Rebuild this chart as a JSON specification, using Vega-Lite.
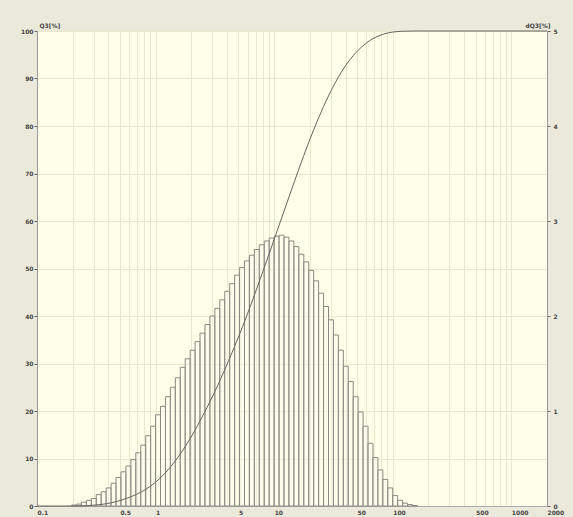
{
  "$schema": "https://vega.github.io/schema/vega-lite/v6.json",
  "width": 510,
  "height": 475,
  "autosize": {"type": "none"},
  "padding": {"left": 37, "top": 31, "right": 26, "bottom": 11},
  "background": "#ebe9da",
  "config": {
    "view": {"fill": "#fefee9", "stroke": "#777777", "strokeWidth": 1},
    "axis": {
      "labelFont": "DejaVu Sans", "labelFontSize": 6, "labelFontWeight": "bold", "labelColor": "#444444",
      "titleFont": "DejaVu Sans", "titleFontSize": 6, "titleFontWeight": "bold", "titleColor": "#444444",
      "domainColor": "#999999", "tickColor": "#666666", "tickSize": 3,
      "gridColor": "#e9e7cd", "gridWidth": 1
    }
  },
  "datasets": {
    "dist": [
      {"lo": 0.19573, "hi": 0.21544, "dq": 0.01},
      {"lo": 0.21544, "hi": 0.23714, "dq": 0.02},
      {"lo": 0.23714, "hi": 0.26102, "dq": 0.04},
      {"lo": 0.26102, "hi": 0.2873, "dq": 0.06},
      {"lo": 0.2873, "hi": 0.31623, "dq": 0.08},
      {"lo": 0.31623, "hi": 0.34807, "dq": 0.12},
      {"lo": 0.34807, "hi": 0.38312, "dq": 0.15},
      {"lo": 0.38312, "hi": 0.4217, "dq": 0.19},
      {"lo": 0.4217, "hi": 0.46416, "dq": 0.24},
      {"lo": 0.46416, "hi": 0.5109, "dq": 0.30},
      {"lo": 0.5109, "hi": 0.56234, "dq": 0.36},
      {"lo": 0.56234, "hi": 0.61897, "dq": 0.42},
      {"lo": 0.61897, "hi": 0.68129, "dq": 0.49},
      {"lo": 0.68129, "hi": 0.74989, "dq": 0.56},
      {"lo": 0.74989, "hi": 0.8254, "dq": 0.64},
      {"lo": 0.8254, "hi": 0.90852, "dq": 0.74},
      {"lo": 0.90852, "hi": 1.0, "dq": 0.84},
      {"lo": 1.0, "hi": 1.1007, "dq": 0.96},
      {"lo": 1.1007, "hi": 1.2115, "dq": 1.05},
      {"lo": 1.2115, "hi": 1.3335, "dq": 1.15},
      {"lo": 1.3335, "hi": 1.4678, "dq": 1.25},
      {"lo": 1.4678, "hi": 1.6156, "dq": 1.35},
      {"lo": 1.6156, "hi": 1.7783, "dq": 1.46},
      {"lo": 1.7783, "hi": 1.9573, "dq": 1.55},
      {"lo": 1.9573, "hi": 2.1544, "dq": 1.64},
      {"lo": 2.1544, "hi": 2.3714, "dq": 1.73},
      {"lo": 2.3714, "hi": 2.6102, "dq": 1.82},
      {"lo": 2.6102, "hi": 2.873, "dq": 1.91},
      {"lo": 2.873, "hi": 3.1623, "dq": 2.00},
      {"lo": 3.1623, "hi": 3.4807, "dq": 2.08},
      {"lo": 3.4807, "hi": 3.8312, "dq": 2.17},
      {"lo": 3.8312, "hi": 4.217, "dq": 2.26},
      {"lo": 4.217, "hi": 4.6416, "dq": 2.34},
      {"lo": 4.6416, "hi": 5.109, "dq": 2.43},
      {"lo": 5.109, "hi": 5.6234, "dq": 2.51},
      {"lo": 5.6234, "hi": 6.1897, "dq": 2.58},
      {"lo": 6.1897, "hi": 6.8129, "dq": 2.64},
      {"lo": 6.8129, "hi": 7.4989, "dq": 2.70},
      {"lo": 7.4989, "hi": 8.254, "dq": 2.75},
      {"lo": 8.254, "hi": 9.0852, "dq": 2.79},
      {"lo": 9.0852, "hi": 10.0, "dq": 2.82},
      {"lo": 10.0, "hi": 11.007, "dq": 2.84},
      {"lo": 11.007, "hi": 12.115, "dq": 2.85},
      {"lo": 12.115, "hi": 13.335, "dq": 2.83},
      {"lo": 13.335, "hi": 14.678, "dq": 2.79},
      {"lo": 14.678, "hi": 16.156, "dq": 2.73},
      {"lo": 16.156, "hi": 17.783, "dq": 2.65},
      {"lo": 17.783, "hi": 19.573, "dq": 2.57},
      {"lo": 19.573, "hi": 21.544, "dq": 2.48},
      {"lo": 21.544, "hi": 23.714, "dq": 2.37},
      {"lo": 23.714, "hi": 26.102, "dq": 2.24},
      {"lo": 26.102, "hi": 28.73, "dq": 2.10},
      {"lo": 28.73, "hi": 31.623, "dq": 1.96},
      {"lo": 31.623, "hi": 34.807, "dq": 1.80},
      {"lo": 34.807, "hi": 38.312, "dq": 1.64},
      {"lo": 38.312, "hi": 42.17, "dq": 1.47},
      {"lo": 42.17, "hi": 46.416, "dq": 1.31},
      {"lo": 46.416, "hi": 51.09, "dq": 1.15},
      {"lo": 51.09, "hi": 56.234, "dq": 0.99},
      {"lo": 56.234, "hi": 61.897, "dq": 0.84},
      {"lo": 61.897, "hi": 68.129, "dq": 0.66},
      {"lo": 68.129, "hi": 74.989, "dq": 0.51},
      {"lo": 74.989, "hi": 82.54, "dq": 0.38},
      {"lo": 82.54, "hi": 90.852, "dq": 0.28},
      {"lo": 90.852, "hi": 100.0, "dq": 0.19},
      {"lo": 100.0, "hi": 110.07, "dq": 0.11},
      {"lo": 110.07, "hi": 121.15, "dq": 0.06},
      {"lo": 121.15, "hi": 133.35, "dq": 0.03},
      {"lo": 133.35, "hi": 146.78, "dq": 0.015},
      {"lo": 146.78, "hi": 161.56, "dq": 0.005}
    ],
    "cum": [
      {"size": 0.1, "q": 0},
      {"size": 0.196, "q": 0},
      {"size": 0.2154, "q": 0.01},
      {"size": 0.261, "q": 0.07},
      {"size": 0.3162, "q": 0.21},
      {"size": 0.3831, "q": 0.48},
      {"size": 0.4642, "q": 0.92},
      {"size": 0.5623, "q": 1.55},
      {"size": 0.6813, "q": 2.4},
      {"size": 0.8254, "q": 3.5},
      {"size": 1.0, "q": 5.0},
      {"size": 1.2115, "q": 7.0},
      {"size": 1.4678, "q": 9.5},
      {"size": 1.7783, "q": 12.5},
      {"size": 2.1544, "q": 16.0},
      {"size": 2.6102, "q": 19.9},
      {"size": 3.1623, "q": 24.1},
      {"size": 3.8312, "q": 28.7},
      {"size": 4.6416, "q": 33.6},
      {"size": 5.6234, "q": 38.8},
      {"size": 6.8129, "q": 44.4},
      {"size": 8.254, "q": 50.2},
      {"size": 10.0, "q": 56.1},
      {"size": 12.115, "q": 62.1},
      {"size": 14.678, "q": 68.0},
      {"size": 17.783, "q": 73.8},
      {"size": 21.544, "q": 79.2},
      {"size": 26.102, "q": 84.1},
      {"size": 31.623, "q": 88.4},
      {"size": 38.312, "q": 92.0},
      {"size": 46.416, "q": 94.8},
      {"size": 56.234, "q": 96.9},
      {"size": 68.129, "q": 98.4},
      {"size": 82.54, "q": 99.3},
      {"size": 100.0, "q": 99.77},
      {"size": 121.15, "q": 99.95},
      {"size": 146.78, "q": 99.99},
      {"size": 161.56, "q": 100},
      {"size": 2000, "q": 100}
    ]
  },
  "layer": [
    {
      "data": {"name": "dist"},
      "mark": {"type": "rect", "fill": "#fbfbee", "fillOpacity": 0.5, "stroke": "#8a8a82", "strokeWidth": 1},
      "encoding": {
        "x": {
          "field": "lo", "type": "quantitative",
          "scale": {"type": "log", "domain": [0.1, 2000], "nice": false},
          "axis": {
            "title": null,
            "values": [0.1,0.2,0.3,0.4,0.5,0.6,0.7,0.8,0.9,1,2,3,4,5,6,7,8,9,10,20,30,40,50,60,70,80,90,100,200,300,400,500,600,700,800,900,1000,2000],
            "labelExpr": "indexof([0.1,0.5,1,5,10,50,100,500,1000,2000], datum.value) >= 0 ? format(datum.value, '~g') : ''",
            "labelOverlap": false,
            "labelAlign": "left",
            "labelPadding": 3,
            "ticks": false,
            "grid": true,
            "domainColor": "#aaaaaa"
          }
        },
        "x2": {"field": "hi"},
        "y": {
          "field": "dq", "type": "quantitative",
          "scale": {"domain": [0, 5], "nice": false},
          "axis": {
            "orient": "right",
            "values": [0, 1, 2, 3, 4, 5],
            "grid": false,
            "labelPadding": 3,
            "labelDy": -4,
            "title": "dQ3[%]",
            "titleAngle": 0,
            "titleAlign": "right",
            "titleBaseline": "bottom",
            "titleX": 3,
            "titleY": -3
          }
        },
        "y2": {"datum": 0}
      }
    },
    {
      "data": {"name": "cum"},
      "mark": {"type": "line", "color": "#666660", "strokeWidth": 1, "interpolate": "monotone"},
      "encoding": {
        "x": {"field": "size", "type": "quantitative"},
        "y": {
          "field": "q", "type": "quantitative",
          "scale": {"domain": [0, 100], "nice": false},
          "axis": {
            "orient": "left",
            "values": [0, 10, 20, 30, 40, 50, 60, 70, 80, 90, 100],
            "grid": true,
            "labelPadding": 1,
            "labelDy": -2,
            "title": "Q3[%]",
            "titleAngle": 0,
            "titleAlign": "left",
            "titleBaseline": "bottom",
            "titleX": 2,
            "titleY": -3
          }
        }
      }
    }
  ],
  "resolve": {"scale": {"y": "independent"}}
}
